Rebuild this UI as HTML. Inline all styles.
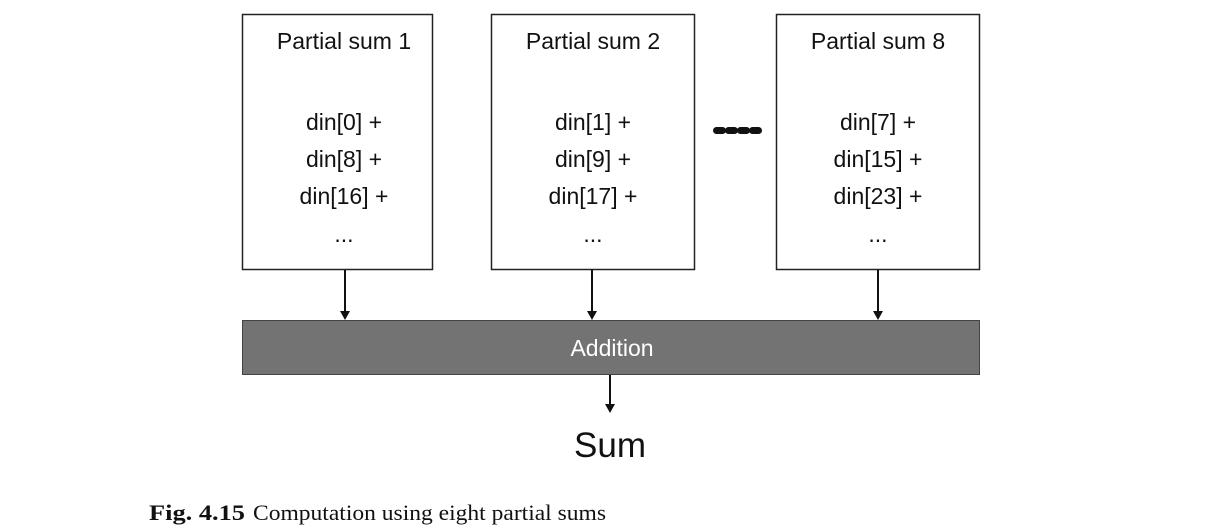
<!DOCTYPE html>
<html><head><meta charset="utf-8"><style>
html,body{margin:0;padding:0;background:#fff;}
svg{display:block;}
.t{font-family:"Liberation Sans",sans-serif;font-size:23px;fill:#111;text-anchor:middle;}
</style></head><body>
<svg width="1221" height="530" viewBox="0 0 1221 530">
<g>
<rect x="242.5" y="14.5" width="190" height="255" fill="#fff" stroke="#222" stroke-width="1.5"/>
<text class="t" x="344" y="49">Partial sum 1</text>
<text class="t" x="344" y="130">din[0] +</text>
<text class="t" x="344" y="167">din[8] +</text>
<text class="t" x="344" y="204">din[16] +</text>
<text class="t" x="344" y="242">...</text>
</g>
<g>
<rect x="491.5" y="14.5" width="203" height="255" fill="#fff" stroke="#222" stroke-width="1.5"/>
<text class="t" x="593" y="49">Partial sum 2</text>
<text class="t" x="593" y="130">din[1] +</text>
<text class="t" x="593" y="167">din[9] +</text>
<text class="t" x="593" y="204">din[17] +</text>
<text class="t" x="593" y="242">...</text>
</g>
<g fill="#111">
<rect x="713" y="127" width="13" height="7" rx="3.5"/>
<rect x="725" y="127" width="13" height="7" rx="3.5"/>
<rect x="737" y="127" width="13" height="7" rx="3.5"/>
<rect x="749" y="127" width="13" height="7" rx="3.5"/>
</g>
<g>
<rect x="776.5" y="14.5" width="203" height="255" fill="#fff" stroke="#222" stroke-width="1.5"/>
<text class="t" x="878" y="49">Partial sum 8</text>
<text class="t" x="878" y="130">din[7] +</text>
<text class="t" x="878" y="167">din[15] +</text>
<text class="t" x="878" y="204">din[23] +</text>
<text class="t" x="878" y="242">...</text>
</g>
<g stroke="#111" stroke-width="2" fill="#111">
<line x1="345" y1="270" x2="345" y2="312"/>
<polygon points="340,311 350,311 345,320" stroke="none"/>
<line x1="592" y1="270" x2="592" y2="312"/>
<polygon points="587,311 597,311 592,320" stroke="none"/>
<line x1="878" y1="270" x2="878" y2="312"/>
<polygon points="873,311 883,311 878,320" stroke="none"/>
</g>
<g>
<rect x="242.5" y="320.5" width="737" height="54" fill="#737373" stroke="#444" stroke-width="1"/>
<text class="t" x="612" y="356" style="fill:#fff">Addition</text>
</g>
<g>
<line x1="610" y1="375" x2="610" y2="405" stroke="#111" stroke-width="2"/>
<polygon points="605,404 615,404 610,413" fill="#111"/>
</g>
<text class="t" x="610" y="457" style="font-size:35px">Sum</text>
<text y="520" style="font-family:'Liberation Serif',serif;font-size:22px;fill:#111"><tspan x="149" font-weight="bold" textLength="96" lengthAdjust="spacingAndGlyphs">Fig. 4.15</tspan><tspan x="253" textLength="353" lengthAdjust="spacingAndGlyphs">Computation using eight partial sums</tspan></text>
</svg>
</body></html>
